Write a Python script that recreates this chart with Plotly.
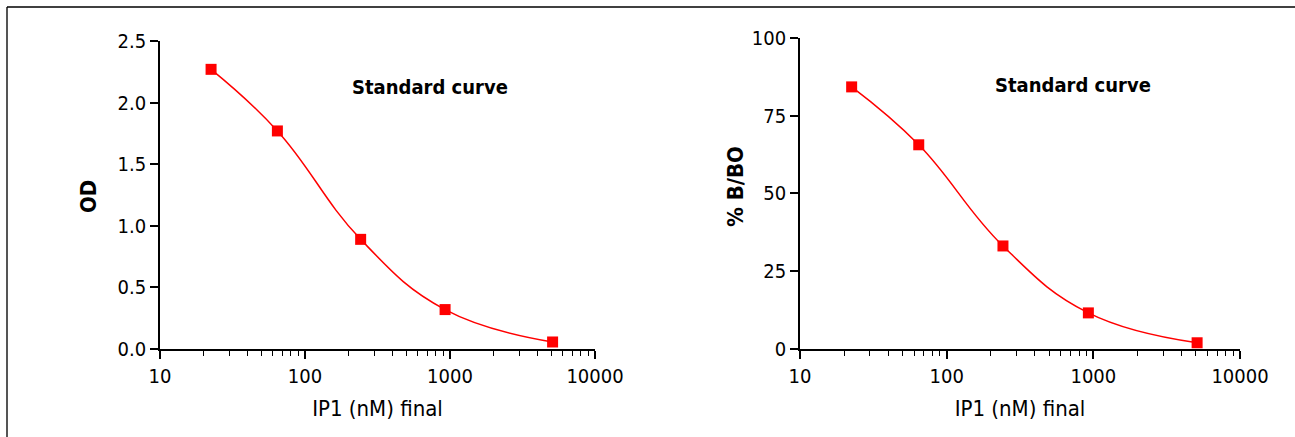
import plotly.graph_objects as go

# Data
ip1_nM = [22.5, 64.5, 242, 925, 5100]
od_values = [2.27, 1.77, 0.89, 0.32, 0.057]
pct_b_b0 = [84.2, 65.6, 33.1, 11.6, 2.0]

x_tickvals = [10, 100, 1000, 10000]
x_ticktext = ["10", "100", "1000", "10000"]
od_ticks = [0.0, 0.5, 1.0, 1.5, 2.0, 2.5]
od_ticktext = ["0.0", "0.5", "1.0", "1.5", "2.0", "2.5"]
pct_ticks = [0, 25, 50, 75, 100]

RED = "#ff0000"
FONT = "DejaVu Sans Condensed, DejaVu Sans, sans-serif"
W, H = 1295, 437

fig = go.Figure()

trace_style = dict(
    mode="lines+markers",
    line=dict(color=RED, width=1.5, shape="spline", smoothing=1.2),
    marker=dict(symbol="square", size=11, color=RED),
    cliponaxis=False,
    showlegend=False,
)

fig.add_trace(go.Scatter(x=ip1_nM, y=od_values, xaxis="x", yaxis="y", **trace_style))
fig.add_trace(go.Scatter(x=ip1_nM, y=pct_b_b0, xaxis="x2", yaxis="y2", **trace_style))

def xaxis(domain, anchor):
    return dict(
        domain=domain, anchor=anchor, type="log", range=[1, 4],
        tickvals=x_tickvals, ticktext=x_ticktext,
        ticks="outside", ticklen=8, tickwidth=1.5, tickcolor="black",
        minor=dict(ticks="outside", ticklen=5, tickwidth=1.2, tickcolor="black", dtick="D1", showgrid=False),
        showline=True, linecolor="black", linewidth=1.8,
        showgrid=False, zeroline=False, automargin=False,
        tickfont=dict(family=FONT, size=20, color="black"),
        title=dict(text="IP1 (nM) final", font=dict(family=FONT, size=22, color="black"), standoff=14),
    )

def yaxis(domain, anchor, rng, tickvals, ticktext):
    return dict(
        domain=domain, anchor=anchor, range=rng,
        tickvals=tickvals, ticktext=ticktext,
        ticks="outside", ticklen=8, tickwidth=1.5, tickcolor="black",
        showline=True, linecolor="black", linewidth=1.8,
        showgrid=False, zeroline=False, automargin=False,
        tickfont=dict(family=FONT, size=20, color="black"),
    )

def label(text, x, y, size, angle=0):
    return dict(text=text, x=x / W, y=(H - y) / H, xref="paper", yref="paper",
                xanchor="center", yanchor="middle", textangle=angle,
                showarrow=False, font=dict(family=FONT, size=size, color="black"))

bottom = (H - 349) / H
fig.update_layout(
    width=W, height=H,
    margin=dict(l=0, r=0, t=0, b=0, pad=0, autoexpand=False),
    paper_bgcolor="white", plot_bgcolor="white",
    xaxis=xaxis([160 / W, 595 / W], "y"),
    yaxis=yaxis([bottom, (H - 41) / H], "x", [0, 2.5], od_ticks, od_ticktext),
    xaxis2=xaxis([800 / W, 1240 / W], "y2"),
    yaxis2=yaxis([bottom, (H - 37.7) / H], "x2", [0, 100], pct_ticks, [str(v) for v in pct_ticks]),
    annotations=[
        label("<b>Standard curve</b>", 430, 87, 20),
        label("<b>Standard curve</b>", 1073, 85, 20),
        label("<b>OD</b>", 88, 197, 22, -90),
        label("<b>% B/BO</b>", 736, 186, 22, -90),
    ],
    shapes=[
        dict(type="line", xref="paper", yref="paper", x0=7 / W, x1=7 / W, y0=0, y1=(H - 7) / H,
             line=dict(color="#555555", width=2)),
        dict(type="line", xref="paper", yref="paper", x0=7 / W, x1=1, y0=(H - 7) / H, y1=(H - 7) / H,
             line=dict(color="black", width=1.5)),
    ],
)

fig.write_html("out.html", config={"displayModeBar": False},
               post_script="document.body.style.margin='0';document.body.style.overflow='hidden';")
